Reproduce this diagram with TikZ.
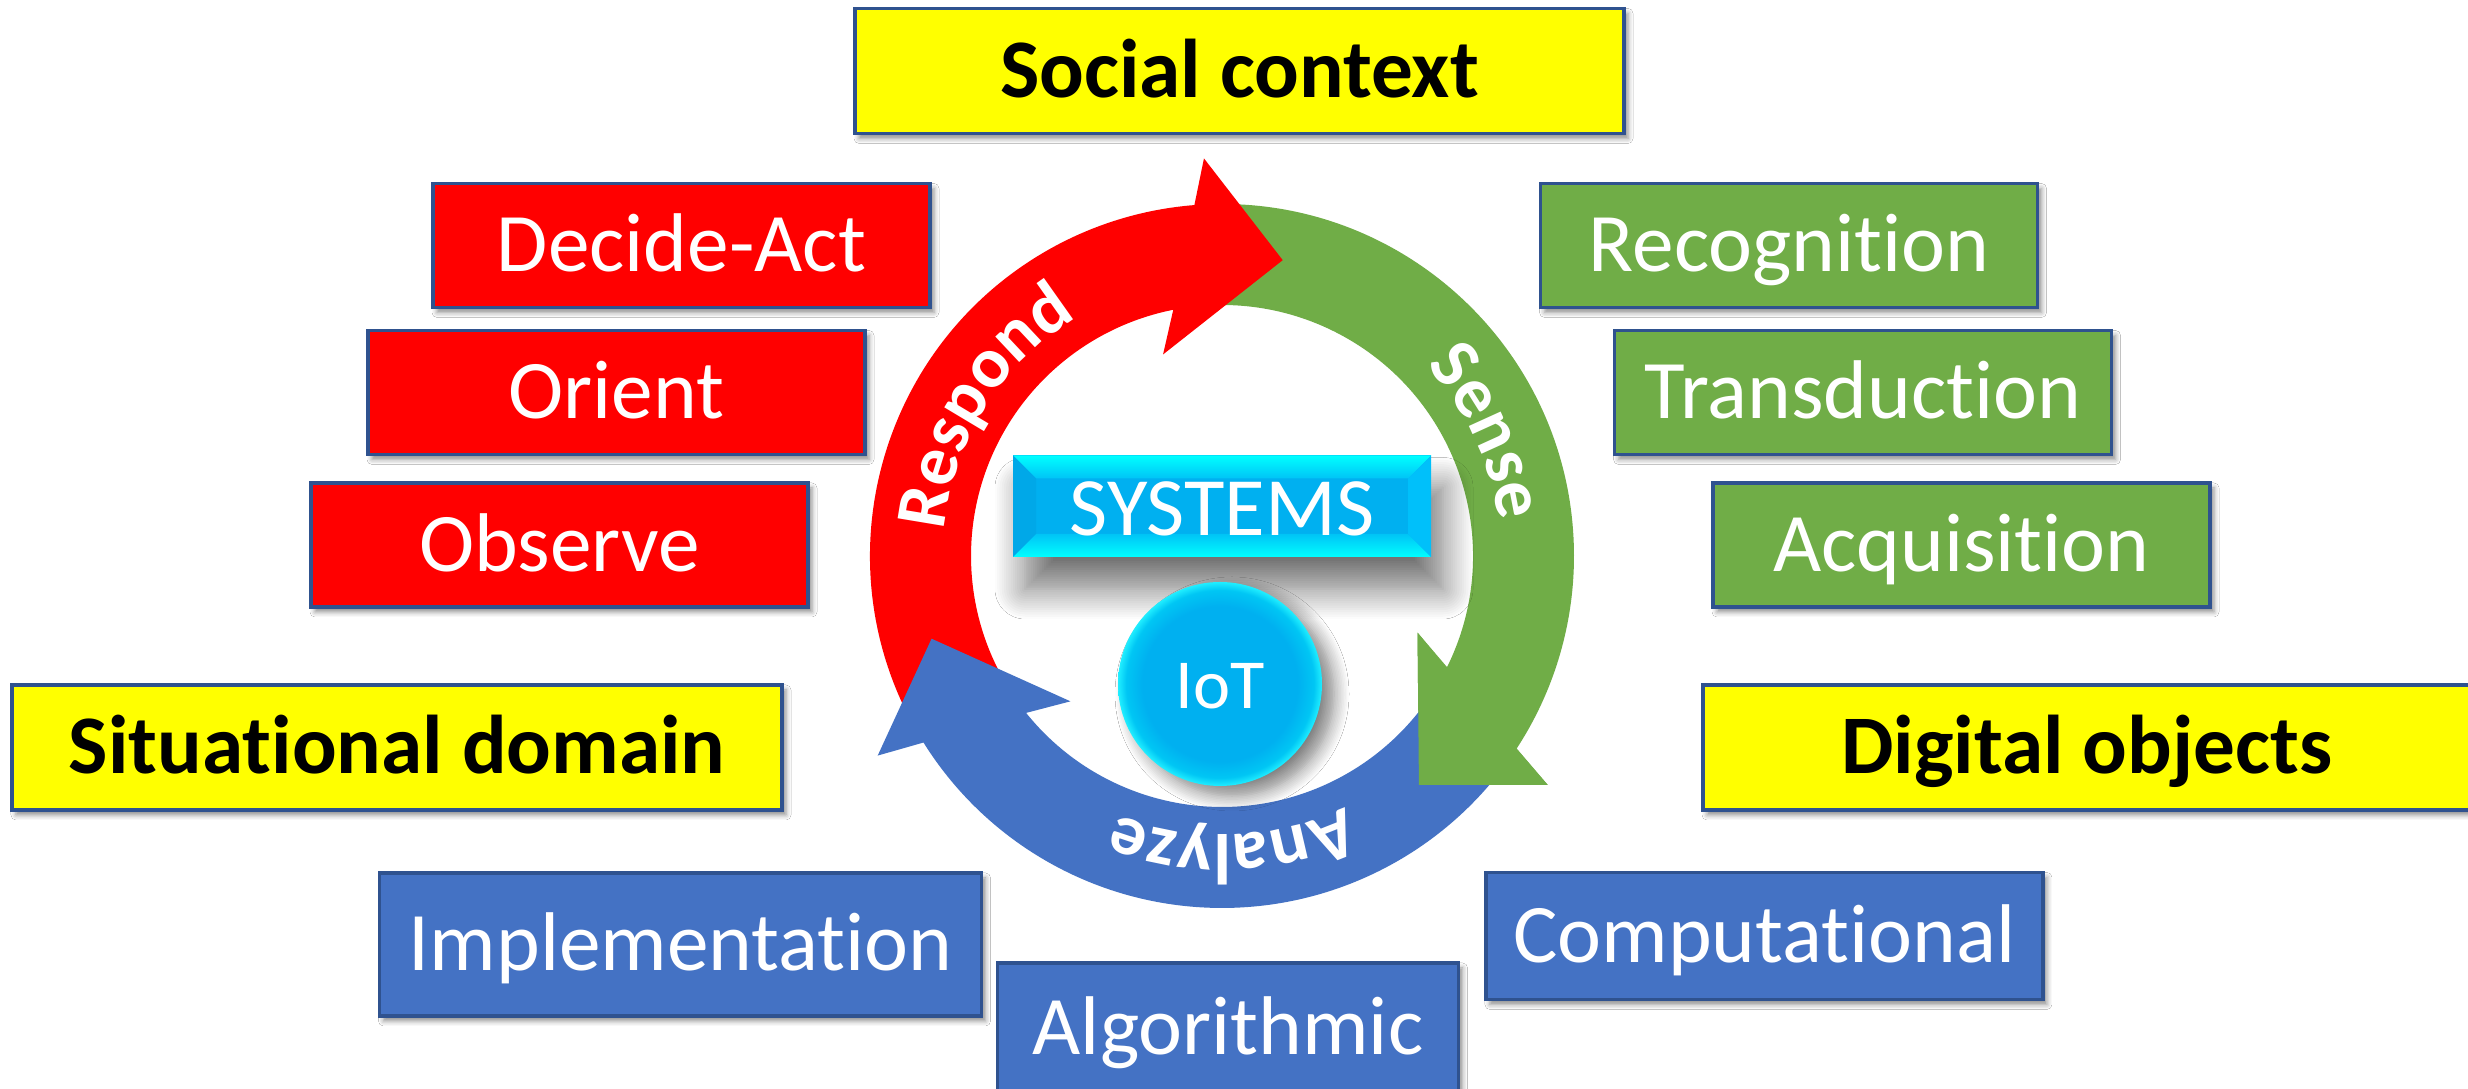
\documentclass[tikz,border=0pt]{standalone}
\usepackage{fontspec}
\setmainfont{Carlito}[Ligatures={NoCommon,NoRequired,NoContextual}, Contextuals=NoAlternate]
\usetikzlibrary{shadows.blur,decorations.text,calc}
\definecolor{rd}{HTML}{FF0000}
\definecolor{gr}{HTML}{70AD47}
\definecolor{bl}{HTML}{4472C4}
\definecolor{yl}{HTML}{FFFF00}
\definecolor{bord}{HTML}{2F528F}
\definecolor{sysface}{HTML}{00B0F0}
\definecolor{syslight}{HTML}{00FFFF}
\definecolor{sysmid}{HTML}{00C4F6}
\definecolor{sysleft}{HTML}{00A8E8}
\definecolor{sysright}{HTML}{00C0FA}
\definecolor{iotc}{HTML}{00B0F0}
\definecolor{iotmid}{HTML}{00C6F4}
\definecolor{iotrim}{HTML}{20EEFF}
\pgfdeclareradialshading{iotshade}{\pgfpoint{0bp}{0bp}}{color(0bp)=(iotc);color(19bp)=(iotc);color(23bp)=(iotmid);color(25bp)=(iotrim);color(50bp)=(iotrim)}
\newcommand\boxfont{\fontsize{23.7}{28}\selectfont}
\newcommand\arcfont{\bfseries\fontsize{20.5}{24}\selectfont}
\newcommand\ringarrow[3]{%
  \fill[#1] (#2:3.52) arc[start angle=#2, end angle={#3+16.1}, radius=3.52]
    -- ({#3+14.2}:3.98) -- (#3:3.02) -- ({#3+27.9}:2.10) -- ({#3+22.8}:2.51)
    arc[start angle={#3+22.8}, end angle=#2, radius=2.51] -- cycle;}
\tikzset{
  box/.style={draw=bord, line width=1.1pt, inner sep=0pt, text height=0.527cm, text depth=0pt,
    font=\boxfont, minimum width=4.97cm, minimum height=1.24cm,
    blur shadow={shadow xshift=0.04cm, shadow yshift=-0.05cm, shadow blur radius=0.05cm, shadow opacity=45}},
  redbox/.style={box, fill=rd, text=white},
  greenbox/.style={box, fill=gr, text=white},
  bluebox/.style={box, fill=bl, text=white},
  yellowbox/.style={box, fill=yl, text=black, font=\boxfont\bfseries, minimum width=7.69cm, minimum height=1.25cm},
  arctext/.style={decorate, decoration={text along path, text={|\arcfont|#1}, text align=center, text color=white}}
}
\begin{document}
\begin{tikzpicture}
\useasboundingbox (0,0) rectangle (24.68,10.89);
\fill[white] (0,0) rectangle (24.68,10.89);

% boxes
\node[yellowbox] (soc) at (12.395,10.18) {Social context};
\node[redbox] (dec) at (6.815,8.435) {Decide-Act};
\node[redbox] (ori) at (6.165,6.965) {Orient};
\node[redbox] (obs) at (5.595,5.44) {Observe};
\node[greenbox] (rec) at (17.89,8.435) {Recognition};
\node[greenbox] (tra) at (18.63,6.965) {Transduction};
\node[greenbox] (acq) at (19.615,5.44) {Acquisition};
\node[yellowbox, minimum width=7.70cm] (sit) at (3.97,3.415) {Situational domain};
\node[yellowbox, minimum width=7.68cm] (dig) at (20.87,3.415) {Digital objects};
\node[bluebox, minimum width=6.02cm, minimum height=1.43cm] (imp) at (6.805,1.445) {Implementation};
\node[bluebox, minimum width=4.61cm, minimum height=1.30cm] (alg) at (12.28,0.61) {Algorithmic};
\node[bluebox, minimum width=5.57cm, minimum height=1.27cm] (com) at (17.644,1.53) {Computational};

% ring
\coordinate (C) at (12.22,5.33);
\begin{scope}[shift={(C)}]
  \ringarrow{gr}{92.4}{-49.3}
  \ringarrow{rd}{209.9}{78.4}
  \ringarrow{bl}{-35.3}{-164.1}
  \fill[gr] ({-49.3+14.2}:3.98) -- (-49.3:3.02) -- ({-49.3+27.9}:2.10) -- cycle;
  \path[arctext=Respond] (188:2.79) arc[start angle=188, end angle=108, radius=2.79];
  \path[arctext=Sense] (65:2.79) arc[start angle=65, end angle=-15, radius=2.79];
  \path[arctext=Analyze] (-48:2.79) arc[start angle=-48, end angle=-128, radius=2.79];
\end{scope}

% SYSTEMS bevel box
\coordinate (sw) at (10.13,5.32);
\coordinate (ne) at (14.31,6.335);
\path[blur shadow={shadow xshift=0.12cm, shadow yshift=-0.32cm, shadow blur radius=0.3cm, shadow opacity=55, shadow blur steps=14}] (sw) rectangle (ne);
\fill[sysface] (sw) rectangle (ne);
\shade[top color=syslight, bottom color=sysmid] (10.13,6.335) -- (14.31,6.335) -- (14.08,6.105) -- (10.36,6.105) -- cycle;
\shade[top color=sysmid, bottom color=syslight] (10.13,5.32) -- (14.31,5.32) -- (14.08,5.55) -- (10.36,5.55) -- cycle;
\fill[sysleft] (10.13,5.32) -- (10.36,5.55) -- (10.36,6.105) -- (10.13,6.335) -- cycle;
\fill[sysright] (14.31,5.32) -- (14.08,5.55) -- (14.08,6.105) -- (14.31,6.335) -- cycle;
\node[inner sep=0pt, text height=0.527cm, text depth=0pt, text=white, font=\fontsize{23.6}{28}\selectfont] (sys) at (12.22,5.80) {SYSTEMS};

% IoT sphere
\path[blur shadow={shadow xshift=0.12cm, shadow yshift=-0.10cm, shadow blur radius=0.15cm, shadow opacity=50, shadow blur steps=10}] (12.20,4.05) circle[radius=1.02];
\shade[shading=iotshade] (12.20,4.05) circle[radius=1.02];
\node[inner sep=0pt, text height=0.446cm, text depth=0pt, text=white, font=\fontsize{20}{24}\selectfont] (iot) at (12.20,4.03) {IoT};
\end{tikzpicture}
\end{document}
